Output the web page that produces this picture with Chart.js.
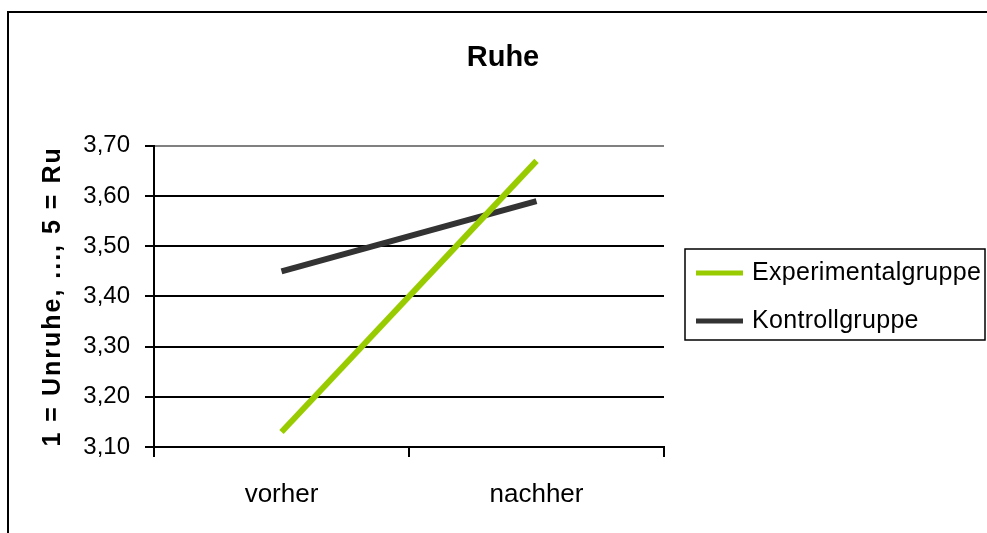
<!DOCTYPE html>
<html>
<head>
<meta charset="utf-8">
<script src="https://cdn.jsdelivr.net/npm/chart.js@4/dist/chart.umd.min.js"></script>
<style>
  html, body { margin: 0; padding: 0; background: #fff; }
  #wrap { width: 987px; height: 533px; }
</style>
</head>
<body>
<div id="wrap"><canvas id="myChart" width="987" height="533"></canvas></div>
<script>
const categories = ["vorher", "nachher"];
const experimental = [3.13, 3.67];
const kontroll = [3.45, 3.59];
const seriesNames = ["Experimentalgruppe", "Kontrollgruppe"];
const yTitle = "1 = Unruhe, ..., 5 = Ru";
const chartTitle = "Ruhe";

const FONT = "'Liberation Sans', Arial, sans-serif";

// white page + outer frame (top and left edges only visible)
const framePlugin = {
  id: "frame",
  beforeDraw(chart) {
    const ctx = chart.ctx;
    ctx.save();
    ctx.fillStyle = "#fff";
    ctx.fillRect(0, 0, chart.width, chart.height);
    ctx.strokeStyle = "#000";
    ctx.lineWidth = 2;
    ctx.beginPath();
    ctx.moveTo(8, chart.height);
    ctx.lineTo(8, 12);
    ctx.lineTo(chart.width, 12);
    ctx.stroke();
    ctx.restore();
  }
};

// rotated, letter-spaced y title
const yTitlePlugin = {
  id: "yTitle",
  afterDraw(chart) {
    const ctx = chart.ctx;
    const area = chart.chartArea;
    ctx.save();
    ctx.translate(53, (area.top + area.bottom) / 2);
    ctx.rotate(-Math.PI / 2);
    ctx.font = "bold 25px " + FONT;
    ctx.letterSpacing = "2px";
    ctx.fillStyle = "#000";
    ctx.textAlign = "center";
    ctx.textBaseline = "middle";
    ctx.fillText(yTitle, 0, 0);
    ctx.restore();
  }
};

// boxed legend to the right of the plot
const legendBoxPlugin = {
  id: "legendBox",
  afterDraw(chart) {
    const ctx = chart.ctx;
    ctx.save();
    ctx.strokeStyle = "#000";
    ctx.lineWidth = 1.5;
    ctx.strokeRect(685, 249, 300, 91);
    const rows = [273, 321];
    chart.data.datasets.forEach((ds, i) => {
      ctx.strokeStyle = ds.borderColor;
      ctx.lineWidth = 5;
      ctx.beginPath();
      ctx.moveTo(696, rows[i]);
      ctx.lineTo(743, rows[i]);
      ctx.stroke();
      ctx.fillStyle = "#000";
      ctx.font = "25px " + FONT;
      ctx.letterSpacing = "0.3px";
      ctx.textBaseline = "middle";
      ctx.textAlign = "left";
      ctx.fillText(ds.label, 752, rows[i]);
    });
    ctx.restore();
  }
};

const data = {
  labels: categories,
  datasets: [
    {
      label: seriesNames[0],
      data: experimental,
      borderColor: "#99CC00",
      backgroundColor: "#99CC00",
      borderWidth: 6,
      pointRadius: 0,
      tension: 0
    },
    {
      label: seriesNames[1],
      data: kontroll,
      borderColor: "#333333",
      backgroundColor: "#333333",
      borderWidth: 6,
      pointRadius: 0,
      tension: 0
    }
  ]
};

const config = {
  type: "line",
  data: data,
  options: {
    responsive: false,
    animation: false,
    layout: { padding: { left: 19, right: 0, top: 0, bottom: 0 } },
    plugins: {
      legend: { display: false },
      tooltip: { enabled: false },
      title: {
        display: true,
        text: chartTitle,
        color: "#000",
        font: { family: FONT, size: 29, weight: "bold", lineHeight: 1.2 },
        padding: { top: 41, bottom: 70 }
      }
    },
    scales: {
      x: {
        offset: true,
        afterFit(scale) { scale.height = 86; },
        grid: {
          offset: true,
          drawOnChartArea: true,
          lineWidth: 2,
          color: (c) => (c.index === 2 ? "#808080" : "rgba(0,0,0,0)"),
          tickColor: "#000",
          tickLength: 10
        },
        border: { color: "#000", width: 2 },
        ticks: {
          color: "#000",
          font: { family: FONT, size: 26 },
          padding: 22
        }
      },
      y: {
        min: 3.1,
        max: 3.7,
        afterFit(scale) { scale.width = 135; },
        grid: {
          lineWidth: 2,
          color: (c) => (c.index === 6 ? "#808080" : "#000"),
          tickColor: "#000",
          tickLength: 9
        },
        border: { color: "#000", width: 2 },
        ticks: {
          stepSize: 0.1,
          color: "#000",
          font: { family: FONT, size: 24 },
          padding: 15,
          callback: (v) => Number(v).toFixed(2).replace(".", ",")
        }
      },
      // empty right-hand axis that reserves the room used by the legend box
      side: {
        position: "right",
        display: true,
        afterFit(scale) { scale.width = 323; },
        grid: { display: false },
        border: { display: false },
        ticks: { display: false }
      }
    }
  },
  plugins: [framePlugin, yTitlePlugin, legendBoxPlugin]
};

new Chart(document.getElementById("myChart"), config);
</script>
</body>
</html>
